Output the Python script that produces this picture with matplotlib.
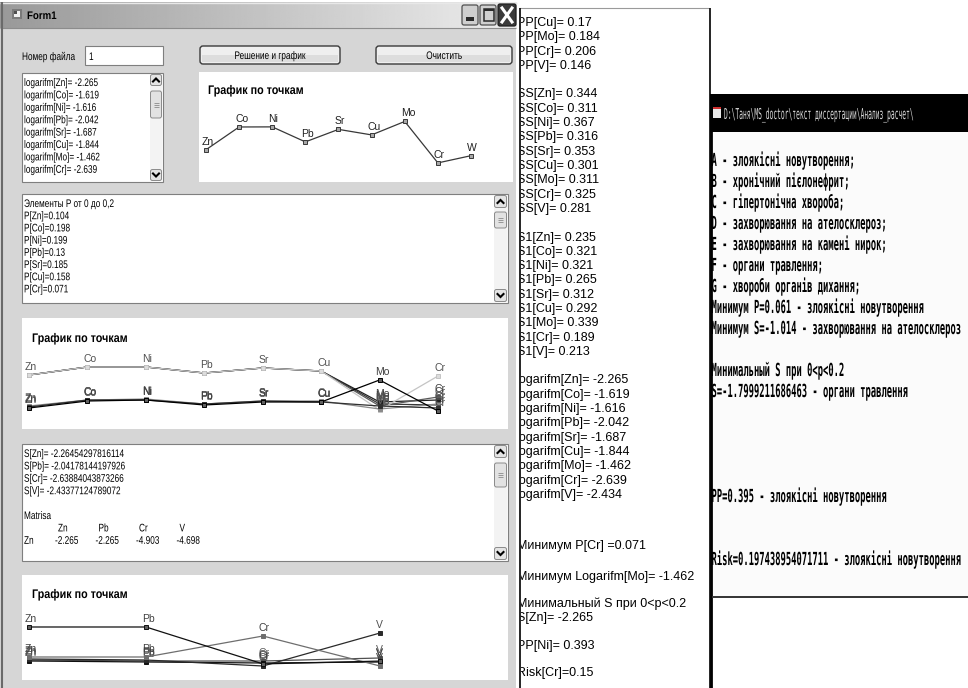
import numpy as np
import matplotlib
matplotlib.use('Agg')
import matplotlib.pyplot as plt
from matplotlib.patches import Rectangle, FancyBboxPatch, PathPatch
from matplotlib.textpath import TextPath
from matplotlib.font_manager import FontProperties
from matplotlib.transforms import Affine2D, Bbox

W, H = 968, 688

# ---------------- data ----------------
elements = ['Zn', 'Co', 'Ni', 'Pb', 'Sr', 'Cu', 'Mo', 'Cr', 'V']
logarifm = [-2.265, -1.619, -1.616, -2.042, -1.687, -1.844, -1.462, -2.639, -2.434]
ss_vals = [0.344, 0.311, 0.367, 0.316, 0.353, 0.301, 0.311, 0.325, 0.281]
s1_vals = [0.235, 0.321, 0.321, 0.265, 0.312, 0.292, 0.339, 0.189, 0.213]
pp_names = ['Cu', 'Mo', 'Cr', 'V']
pp_vals = [0.17, 0.184, 0.206, 0.146]

p_names = ['Zn', 'Co', 'Ni', 'Pb', 'Sr', 'Cu', 'Cr']
p_vals = [0.104, 0.198, 0.199, 0.13, 0.185, 0.158, 0.071]

s_names = ['Zn', 'Pb', 'Cr', 'V']
s_full = [-2.26454297816114, -2.04178144197926, -2.63884043873266, -2.43377124789072]
matrix_row = [-2.265, -2.265, -4.903, -4.698]

# chart 1: logarifm values, last point labelled W
chart1_labels = ['Zn', 'Co', 'Ni', 'Pb', 'Sr', 'Cu', 'Mo', 'Cr', 'W']

# chart 2: 8 elements, several series (estimated)
chart2_labels = ['Zn', 'Co', 'Ni', 'Pb', 'Sr', 'Cu', 'Mo', 'Cr']
c2_light = [-1.875, -1.675, -1.675, -1.825, -1.700, -1.775, -2.750, -1.900]
c2_top_a = [-1.875, -1.675, -1.675, -1.825, -1.700, -1.775, -2.600, -2.625]
c2_top_b = [-1.875, -1.675, -1.675, -1.825, -1.700, -1.775, -2.550, -2.500]
c2_top_c = [-1.875, -1.675, -1.675, -1.825, -1.700, -1.775, -2.650, -2.425]
c2_low_a = [-2.700, -2.525, -2.500, -2.625, -2.550, -2.550, -2.000, -2.775]
c2_low_b = [-2.675, -2.500, -2.500, -2.600, -2.525, -2.550, -2.650, -2.700]
c2_low_c = [-2.650, -2.500, -2.475, -2.600, -2.525, -2.525, -2.725, -2.600]

# chart 3: 4 elements (matrix rows, estimated except first)
chart3_labels = ['Zn', 'Pb', 'Cr', 'V']
c3_a = matrix_row
c3_b = [-4.408, -4.408, -2.908, -5.051]
c3_c = [-4.551, -4.622, -5.051, -2.694]
c3_d = [-4.694, -4.765, -4.836, -4.765]
c3_e = [-4.622, -4.694, -4.694, -4.479]

console_lines = [
    'A - злоякісні новутворення;',
    'B - хронічний пієлонефрит;',
    'C - гіпертонічна хвороба;',
    'D - захворювання на ателосклероз;',
    'E - захворювання на камені нирок;',
    'F - органи травлення;',
    'G - хвороби органів дихання;',
    'Минимум P=0.061 - злоякісні новутворення',
    'Минимум S=-1.014 - захворювання на ателосклероз',
    '',
    'Минимальный S при 0<p<0.2',
    'S=-1.7999211686463 - органи травлення',
    '', '', '', '',
    'PP=0.395 - злоякісні новутворення',
    '', '',
    'Risk=0.197438954071711 - злоякісні новутворення',
]
console_title = 'D:\\Таня\\MS_doctor\\текст диссертации\\Анализ_расчет\\'

bottom_notes = ['Минимум P[Cr] =0.071', 'Минимум Logarifm[Mo]= -1.462',
                'Минимальный S при 0<p<0.2', 'S[Zn]= -2.265', 'PP[Ni]= 0.393',
                'Risk[Cr]=0.15']

# ---------------- canvas ----------------
fig = plt.figure(figsize=(W / 100, H / 100), dpi=100)
ax = fig.add_axes([0, 0, 1, 1])
ax.axis('off')
ax.set_xlim(0, W)
ax.set_ylim(H, 0)
ax.set_autoscale_on(False)


def rect(x0, y0, x1, y1, fc, ec='none', lw=0.75, z=1):
    r = Rectangle((x0, y0), x1 - x0, y1 - y0, fc=fc, ec=ec, lw=lw, zorder=z)
    ax.add_patch(r)
    return r


def hline(x0, x1, y, c, lw=0.75, z=2):
    ax.plot([x0, x1], [y, y], color=c, lw=lw, zorder=z, solid_capstyle='butt')


def vline(x, y0, y1, c, lw=0.75, z=2):
    ax.plot([x, x], [y0, y1], color=c, lw=lw, zorder=z, solid_capstyle='butt')


def ptext(x, y, s, size=11, sx=0.75, color='black', weight='normal',
          family='Liberation Sans', ha='left', z=6):
    # text drawn as a path so it can be squeezed horizontally
    tp = TextPath((0, 0), s, size=size, prop=FontProperties(family=family, weight=weight))
    w = tp.get_extents().x1 * sx
    if ha == 'center':
        x -= w / 2
    tr = Affine2D().scale(sx, -1).translate(x, y) + ax.transData
    ax.add_patch(PathPatch(tp, fc=color, ec='none', lw=0, transform=tr, zorder=z))


def scrollbar(x0, y0, x1, y1, t0, t1):
    w = x1 - x0
    rect(x0, y0, x1, y1, '#f3f3f3', z=3)
    cx = (x0 + x1) / 2
    for by0, up in ((y0, True), (y1 - w, False)):
        ax.add_patch(FancyBboxPatch((x0 + 0.5, by0 + 0.5), w - 1, w - 1,
                                    boxstyle='round,pad=0,rounding_size=2',
                                    fc='#e4e4e4', ec='#8a8a8a', lw=0.7, zorder=4))
        cy = by0 + w / 2
        d = 1.5 if up else -1.5
        ax.plot([cx - 3, cx, cx + 3], [cy + d, cy - d, cy + d], color='black',
                lw=1.5, zorder=5, solid_joinstyle='miter')
    ax.add_patch(FancyBboxPatch((x0 + 0.5, t0), w - 1, t1 - t0,
                                boxstyle='round,pad=0,rounding_size=2',
                                fc='#e2e2e2', ec='#8a8a8a', lw=0.7, zorder=4))
    cy = (t0 + t1) / 2
    for dy in (-2, 0, 2):
        hline(cx - 2.5, cx + 2.5, cy + dy, '#8a8a8a', lw=0.6, z=5)


def button(x0, y0, x1, y1, label):
    ax.add_patch(FancyBboxPatch((x0, y0), x1 - x0, y1 - y0,
                                boxstyle='round,pad=0,rounding_size=3',
                                fc='#efefef', ec='#3a3a3a', lw=1.0, zorder=3))
    rect(x0 + 2, (y0 + y1) / 2, x1 - 2, y1 - 2, '#dddddd', z=3.5)
    ptext((x0 + x1) / 2, (y0 + y1) / 2 + 4, label, ha='center')


def textbox(x0, y0, x1, y1):
    rect(x0, y0, x1, y1, 'white', ec='#7f7f7f', lw=0.8, z=3)


# ---------------- window frame of Form1 ----------------
rect(0, 0, W, H, 'white', z=0)
rect(0, 28, 516, H, '#d6d6d6', z=1)
grad = np.linspace(0.6, 0.93, 256)[None, :]
ax.imshow(grad, extent=(0, 517, 28, 2), cmap='gray', vmin=0, vmax=1,
          aspect='auto', zorder=1, interpolation='bilinear')
hline(0, 517, 2.5, '#e8e8e8', lw=1)
hline(0, 516, 28, '#8c8c8c', lw=0.8)
vline(2, 2, H, '#6a6a6a', lw=1.5)
rect(12, 9, 22, 19, '#7a7a7a', z=3)
rect(14, 11, 20, 17, '#f0f0f0', z=4)
rect(14, 11, 17, 14, '#505050', z=5)
ptext(27, 19, 'Form1', size=11, sx=0.88, weight='bold')

# window buttons
for bx in (462, 480):
    ax.add_patch(FancyBboxPatch((bx, 5), 16, 20, boxstyle='round,pad=0,rounding_size=2',
                                fc='#cfcfcf', ec='#505050', lw=0.9, zorder=3))
rect(466, 17, 474, 21, '#2a2a2a', z=5)
rect(484, 9, 494, 21, 'none', ec='#2a2a2a', lw=1.1, z=5)
rect(484, 9, 494, 11, '#2a2a2a', z=5)
ax.add_patch(FancyBboxPatch((498, 4), 18, 22, boxstyle='round,pad=0,rounding_size=2',
                            fc='#3a3a3a', ec='#202020', lw=0.9, zorder=3))
ax.plot([502, 512], [8, 22], color='white', lw=2.2, zorder=5)
ax.plot([512, 502], [8, 22], color='white', lw=2.2, zorder=5)

# ---------------- top controls ----------------
ptext(22, 60, 'Номер файла')
textbox(85, 46, 163, 65)
ptext(89, 60, '1')
button(200, 46, 340, 64, 'Решение и график')
button(376, 46, 512, 64, 'Очистить')

# list box with logarifm values
textbox(22, 73, 163, 182)
for i in range(8):
    ptext(24, 82 + 12.4 * i + 4, f'logarifm[{elements[i]}]= {logarifm[i]}')
scrollbar(150, 74, 162, 181, 91, 118)

# text box with P values
textbox(22, 194, 508, 303)
ptext(24, 203 + 4, 'Элементы P от 0 до 0,2')
for i, (n, v) in enumerate(zip(p_names, p_vals)):
    ptext(24, 203 + 12.2 * (i + 1) + 4, f'P[{n}]={v}')
scrollbar(494, 195, 507, 302, 212, 228)

# text box with S values and matrix
textbox(22, 444, 508, 561)
for i, (n, v) in enumerate(zip(s_names, s_full)):
    ptext(24, 453 + 12.4 * i + 4, f'S[{n}]= {v}')
ptext(24, 453 + 12.4 * 5 + 4, 'Matrisa')
for j, n in enumerate(s_names):
    ptext(58 + 40.5 * j, 453 + 12.4 * 6 + 4, n)
    ptext(55 + 40.5 * j, 453 + 12.4 * 7 + 4, f'{matrix_row[j]}')
ptext(24, 453 + 12.4 * 7 + 4, 'Zn')
scrollbar(494, 445, 507, 560, 463, 487)

# chart panels
for (x0, y0, x1, y1) in ((199, 72, 513, 182), (22, 318, 508, 429), (22, 575, 508, 680)):
    rect(x0, y0, x1, y1, 'white', z=2)
ptext(208, 94, 'График по точкам', size=12.5, sx=0.86, weight='bold')
ptext(32, 342, 'График по точкам', size=12.5, sx=0.86, weight='bold')
ptext(32, 598, 'График по точкам', size=12.5, sx=0.86, weight='bold')

# ---------------- middle output column ----------------
rect(519, 8, 709, H, 'white', z=2)
hline(519, 709, 8, '#9a9a9a', lw=0.8)
vline(519.5, 8, H, 'black', lw=1.2, z=7)
vline(709.5, 8, H, 'black', lw=1.2, z=7)
cx0, cy0 = ax.transData.transform((520.5, H))
cx1, cy1 = ax.transData.transform((709, 8))
clip_bb = Bbox([[cx0, cy0], [cx1, cy1]])


def mid_text(x, y, s):
    t = ax.text(x, y, s, fontsize=9, family='Liberation Sans',
                va='center', ha='left', zorder=6)
    t.set_clip_on(True)
    t.set_clip_box(clip_bb)


mid = [f'PP[{n}]= {v}' for n, v in zip(pp_names, pp_vals)] + ['']
mid += [f'SS[{n}]= {v}' for n, v in zip(elements, ss_vals)] + ['']
mid += [f'S1[{n}]= {v}' for n, v in zip(elements, s1_vals)] + ['']
mid += [f'Logarifm[{n}]= {v}' for n, v in zip(elements, logarifm)]
for i, s in enumerate(mid):
    if s:
        mid_text(512 if s.startswith('Log') else 517, 23 + 14.3 * i, s)
for y, s in zip([546, 577, 604, 618, 646, 673], bottom_notes):
    mid_text(517, y, s)

# ---------------- console window on the right ----------------
rect(710, 94, W, 132, 'black', z=3)
rect(712, 132, W, 597, '#fbfbfb', z=3)
vline(710.5, 94, H, 'black', lw=2.0, z=7)
hline(712, W, 597, '#333333', lw=1.4, z=7)
rect(713, 107, 721, 118, '#e8e8e8', z=4)
rect(713, 107, 721, 109, '#d03030', z=5)
ptext(724, 119, console_title, size=15, sx=0.42, color='#d8d8d8',
      family='DejaVu Sans Mono', z=5)
for i, s in enumerate(console_lines):
    if s:
        ptext(711.5, 160 + 21 * i + 6, s, size=18, sx=0.49,
              family='DejaVu Sans Mono', weight='bold', z=5)


# ---------------- charts (own axes, pixel-matched) ----------------
def chart_axes(x0, y0, x1, y1, xlim, ylim):
    a = fig.add_axes([x0 / W, 1 - y1 / H, (x1 - x0) / W, (y1 - y0) / H])
    a.set_xlim(*xlim)
    a.set_ylim(*ylim)
    a.axis('off')
    return a


def draw_series(a, values, labels, color, mfc, lc='#404040', z=2, lw=0.9, first=0):
    xs = np.arange(len(values))
    a.plot(xs, values, color=color, lw=lw, marker='s', ms=3.2, mfc=mfc,
           mec=color, mew=0.7, zorder=z, clip_on=False)
    for xi, v, lab in list(zip(xs, values, labels))[first:]:
        a.annotate(lab, (xi, v), xytext=(-4, 3), textcoords='offset pixels',
                   fontsize=7.5, color=lc, ha='left', va='bottom',
                   family='Liberation Sans', zorder=z + 0.5)


ax1 = chart_axes(199, 72, 513, 182, (-0.211, 9.268), (-3.181, -0.058))
draw_series(ax1, logarifm, chart1_labels, '#383838', '#a8a8a8', lc='#202020')

ax2 = chart_axes(22, 318, 508, 430, (-0.1198, 8.198), (-3.25, -0.45))
draw_series(ax2, c2_top_a, chart2_labels, '#383838', '#383838', first=6)
draw_series(ax2, c2_top_b, chart2_labels, '#202020', '#202020', first=6)
draw_series(ax2, c2_top_c, chart2_labels, '#5a5a5a', '#5a5a5a', first=6)
draw_series(ax2, c2_light, chart2_labels, '#c4c4c4', '#dcdcdc', lc='#505050', z=3)
draw_series(ax2, c2_low_c, chart2_labels, '#8a8a8a', '#8a8a8a', lc='#606060', z=4)
draw_series(ax2, c2_low_b, chart2_labels, '#303030', '#303030', lc='#505050', z=4)
draw_series(ax2, c2_low_a, chart2_labels, '#000000', '#606060', z=5)

ax3 = chart_axes(22, 575, 508, 680, (-0.0598, 4.094), (-6.051, 1.449))
draw_series(ax3, c3_e, chart3_labels, '#505050', '#505050', lc='#606060', z=2)
draw_series(ax3, c3_d, chart3_labels, '#101010', '#101010', lc='#505050', z=2)
draw_series(ax3, c3_c, chart3_labels, '#2a2a2a', '#2a2a2a', lc='#505050', z=3)
draw_series(ax3, c3_b, chart3_labels, '#6e6e6e', '#6e6e6e', z=3)
draw_series(ax3, c3_a, chart3_labels, '#101010', '#606060', z=4)

fig.savefig('out.png', dpi=100)
